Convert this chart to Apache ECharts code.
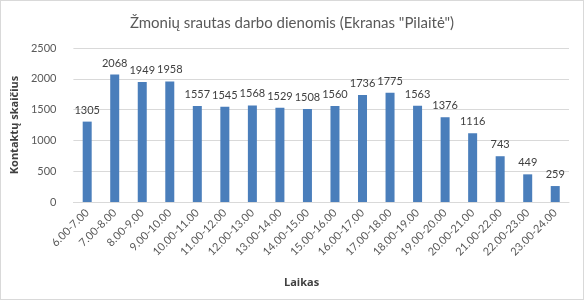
<!DOCTYPE html>
<html><head><meta charset="utf-8">
<script src="https://cdn.jsdelivr.net/npm/echarts@6/dist/echarts.min.js"></script>
<style>html,body{margin:0;padding:0;background:#fff}#c{width:584px;height:300px;box-sizing:border-box;border:1px solid #d9d9d9}</style>
</head><body><div id="c"></div>
<script>
const categories = ["6.00-7.00","7.00-8.00","8.00-9.00","9.00-10.00","10.00-11.00","11.00-12.00","12.00-13.00","13.00-14.00","14.00-15.00","15.00-16.00","16.00-17.00","17.00-18.00","18.00-19.00","19.00-20.00","20.00-21.00","21.00-22.00","22.00-23.00","23.00-24.00"];
const values = [1305,2068,1949,1958,1557,1545,1568,1529,1508,1560,1736,1775,1563,1376,1116,743,449,259];
const yTicks = [0,500,1000,1500,2000,2500];
const titleText = 'Žmonių srautas darbo dienomis (Ekranas "Pilaitė")';
const yName = 'Kontaktų skaičius';
const xName = 'Laikas';

const font = 'Lato, "Open Sans", sans-serif';
const boldFont = '"Open Sans", Lato, sans-serif';
const chart = echarts.init(document.getElementById('c'), null, {renderer:'canvas'});
chart.setOption({
  animation:false,
  title:{text:titleText,left:'center',top:10,textStyle:{fontFamily:font,fontSize:15,fontWeight:'normal',color:'#595959'}},
  grid:{left:70,right:14,top:47,bottom:97},
  xAxis:{type:'category',data:categories,
    axisLine:{lineStyle:{color:'#d9d9d9'}},axisTick:{show:false},
    axisLabel:{rotate:45,interval:0,color:'#595959',fontFamily:font,fontSize:11,margin:9}},
  yAxis:{type:'value',min:yTicks[0],max:yTicks[yTicks.length-1],interval:500,
    name:yName,nameLocation:'middle',nameGap:45,nameTextStyle:{fontFamily:boldFont,fontSize:11,fontWeight:'bold',color:'#404040'},
    axisLine:{show:false},axisTick:{show:false},
    splitLine:{lineStyle:{color:'#d9d9d9'}},
    axisLabel:{color:'#595959',fontFamily:font,fontSize:11,margin:17,formatter:v=>String(v)}},
  graphic:[{type:'text',left:283,top:276,style:{text:xName,fill:'#404040',font:'bold 11px '+boldFont}}],
  series:[{type:'bar',data:values,barWidth:9,itemStyle:{color:'#4a7ebb'},
    label:{show:true,position:'top',distance:6,color:'#404040',fontFamily:font,fontSize:11}}]
});
</script></body></html>
